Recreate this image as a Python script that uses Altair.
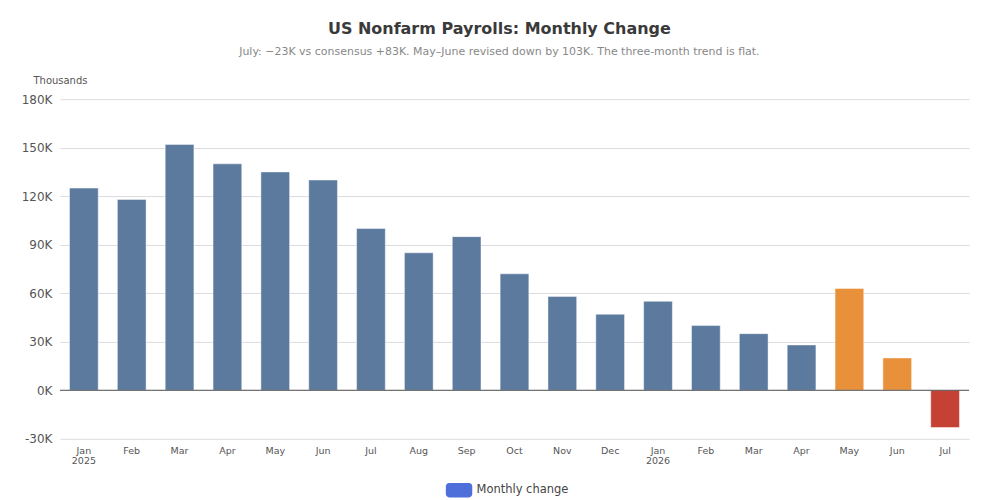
import altair as alt
import pandas as pd

months = ["Jan 2025", "Feb 2025", "Mar 2025", "Apr 2025", "May 2025", "Jun 2025",
          "Jul 2025", "Aug 2025", "Sep 2025", "Oct 2025", "Nov 2025", "Dec 2025",
          "Jan 2026", "Feb 2026", "Mar 2026", "Apr 2026", "May 2026", "Jun 2026", "Jul 2026"]
values = [125, 118, 152, 140, 135, 130, 100, 85, 95, 72, 58, 47, 55, 40, 35, 28, 63, 20, -23]
status = ["normal"] * 16 + ["revised", "revised", "latest"]

df = pd.DataFrame({"month": months, "value": values, "status": status})

y_ticks = [-30, 0, 30, 60, 90, 120, 150, 180]

legend_shape = ("M-0.75,-0.54 L0.75,-0.54 A0.25,0.25 0 0 1 1,-0.29 L1,0.29 "
                "A0.25,0.25 0 0 1 0.75,0.54 L-0.75,0.54 A0.25,0.25 0 0 1 -1,0.29 "
                "L-1,-0.29 A0.25,0.25 0 0 1 -0.75,-0.54 Z")

bars = alt.Chart(df).mark_bar(stroke="#ffffff", strokeOpacity=0.45, strokeWidth=1).encode(
    x=alt.X("month:N", sort=months, title=None,
            scale=alt.Scale(paddingInner=0.4, paddingOuter=0.2),
            axis=alt.Axis(labelAngle=0, domain=False, ticks=False, labelFontSize=9.5,
                          labelColor="#555", labelPadding=7, labelLineHeight=10,
                          labelExpr="split(datum.value, ' ')[0] == 'Jan' ? split(datum.value, ' ') : split(datum.value, ' ')[0]")),
    y=alt.Y("value:Q", title="Thousands",
            scale=alt.Scale(domain=[-30, 180], nice=False),
            axis=alt.Axis(values=y_ticks, labelExpr="datum.value + 'K'", domain=False, ticks=False,
                          grid=True, gridColor="#dcdce0", labelFontSize=12, labelColor="#555",
                          labelPadding=8, titleAngle=0, titleAlign="left", titleX=-27, titleY=-14,
                          titleFontSize=10, titleFontWeight="normal", titleColor="#555")),
    color=alt.Color("status:N",
                    scale=alt.Scale(domain=["Monthly change", "normal", "revised", "latest"],
                                    range=["#4e6fd9", "#5b7a9e", "#e8913a", "#c44133"]),
                    legend=alt.Legend(values=["Monthly change"], title=None, orient="none",
                                      legendX=386, legendY=378,
                                      direction="horizontal", symbolType=legend_shape,
                                      symbolSize=700, symbolStrokeWidth=0, labelFontSize=11.5,
                                      labelColor="#444")),
)

zero = alt.Chart(pd.DataFrame({"z": [0]})).mark_rule(color="#555", strokeWidth=1).encode(
    y=alt.Y("z:Q")
)

chart = alt.layer(bars, zero).properties(
    width=910, height=340,
    padding={"left": 13, "top": 13, "right": 22, "bottom": 0},
    title=alt.TitleParams(
        "US Nonfarm Payrolls: Monthly Change",
        subtitle="July: \u221223K vs consensus +83K. May\u2013June revised down by 103K. The three-month trend is flat.",
        fontSize=16, fontWeight="bold", color="#3a3a3a", frame="bounds", dx=4,
        subtitleFontSize=11, subtitleColor="#888", subtitlePadding=9, offset=18, anchor="middle",
    ),
).configure(font="DejaVu Sans").configure_view(stroke=None)

chart.save("out.html", embed_options={"renderer": "svg", "actions": False})
